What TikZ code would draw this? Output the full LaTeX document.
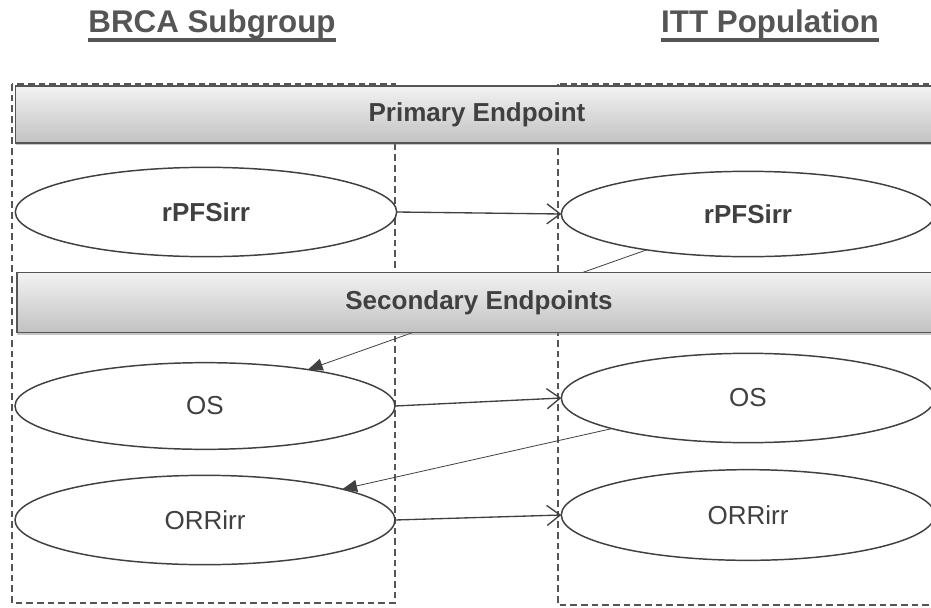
\documentclass[tikz,border=0pt]{standalone}
\usepackage{fontspec}
\setmainfont{Liberation Sans}
\usetikzlibrary{shapes.geometric,arrows.meta,shadows}
\definecolor{ink}{HTML}{404040}
\definecolor{rule}{HTML}{555555}
\definecolor{thin}{HTML}{808080}
\begin{document}
\begin{tikzpicture}[x=0.75pt,y=-0.75pt,
  groupbox/.style={draw=rule,line width=0.8pt,dash pattern=on 5pt off 3pt},
  heading/.style={font=\fontsize{23.5}{27}\selectfont\bfseries,text=rule,inner sep=0pt},
  banner/.style={draw=rule,line width=1.1pt,shading=axis,top color=black!5,bottom color=black!24,
    drop shadow={shadow xshift=0pt,shadow yshift=-1.5pt,opacity=0.45},
    font=\fontsize{19.5}{23}\selectfont\bfseries,text=ink,inner sep=0pt},
  oval/.style={ellipse,draw=ink,line width=1.1pt,fill=white,inner sep=0pt,outer sep=0pt,
    font=\fontsize{19.5}{23}\selectfont,text=ink},
  flow/.style={draw=ink,line width=1pt,-{Straight Barb[length=10pt,width=15pt]}},
  back/.style={draw=thin,line width=0.6pt,-{Triangle[length=11pt,width=9pt]},ink}
]
\clip (0,0) rectangle (931,607);
\fill[white] (0,0) rectangle (931,607);

% two dashed group frames
\draw[groupbox] (12,84) rectangle (395,603);
\draw[groupbox] (558,84) rectangle (980,605);

% column headings with underline
\node[heading,anchor=base] (hL) at (212,32) {BRCA Subgroup};
\node[heading,anchor=base] (hR) at (770,32) {ITT Population};
\draw[rule,line width=2.3pt] ([yshift=-6pt]hL.base west) -- ([yshift=-6pt]hL.base east);
\draw[rule,line width=2.3pt] ([yshift=-6pt]hR.base west) -- ([yshift=-6pt]hR.base east);

% endpoint ellipses
\node[oval,minimum width=286pt,minimum height=67pt,font=\fontsize{19.5}{23}\selectfont\bfseries] (pL) at (206,212) {rPFSirr};
\node[oval,minimum width=280pt,minimum height=64pt,font=\fontsize{19.5}{23}\selectfont\bfseries] (pR) at (748,214) {rPFSirr};
\node[oval,minimum width=285pt,minimum height=65pt] (oL) at (205,406) {OS};
\node[oval,minimum width=280pt,minimum height=67pt] (oR) at (748,398) {OS};
\node[oval,minimum width=285pt,minimum height=67pt] (rL) at (205,520) {ORRirr};
\node[oval,minimum width=280pt,minimum height=68pt] (rR) at (748,515) {ORRirr};

% arrows running back from the ITT column
\draw[back] (pR) -- (oL);
\draw[back] (oR) -- (rL);

% section banners
\node[banner,minimum width=692pt,minimum height=43pt] (prim) at (477,114.5) {Primary Endpoint};
\node[banner,minimum width=693pt,minimum height=45pt] (sec) at (479,302.5) {Secondary Endpoints};

% arrows across the columns
\draw[flow] (pL.east) -- (pR.west);
\draw[flow] (oL.east) -- (oR.west);
\draw[flow] (rL.east) -- (rR.west);
\end{tikzpicture}
\end{document}
